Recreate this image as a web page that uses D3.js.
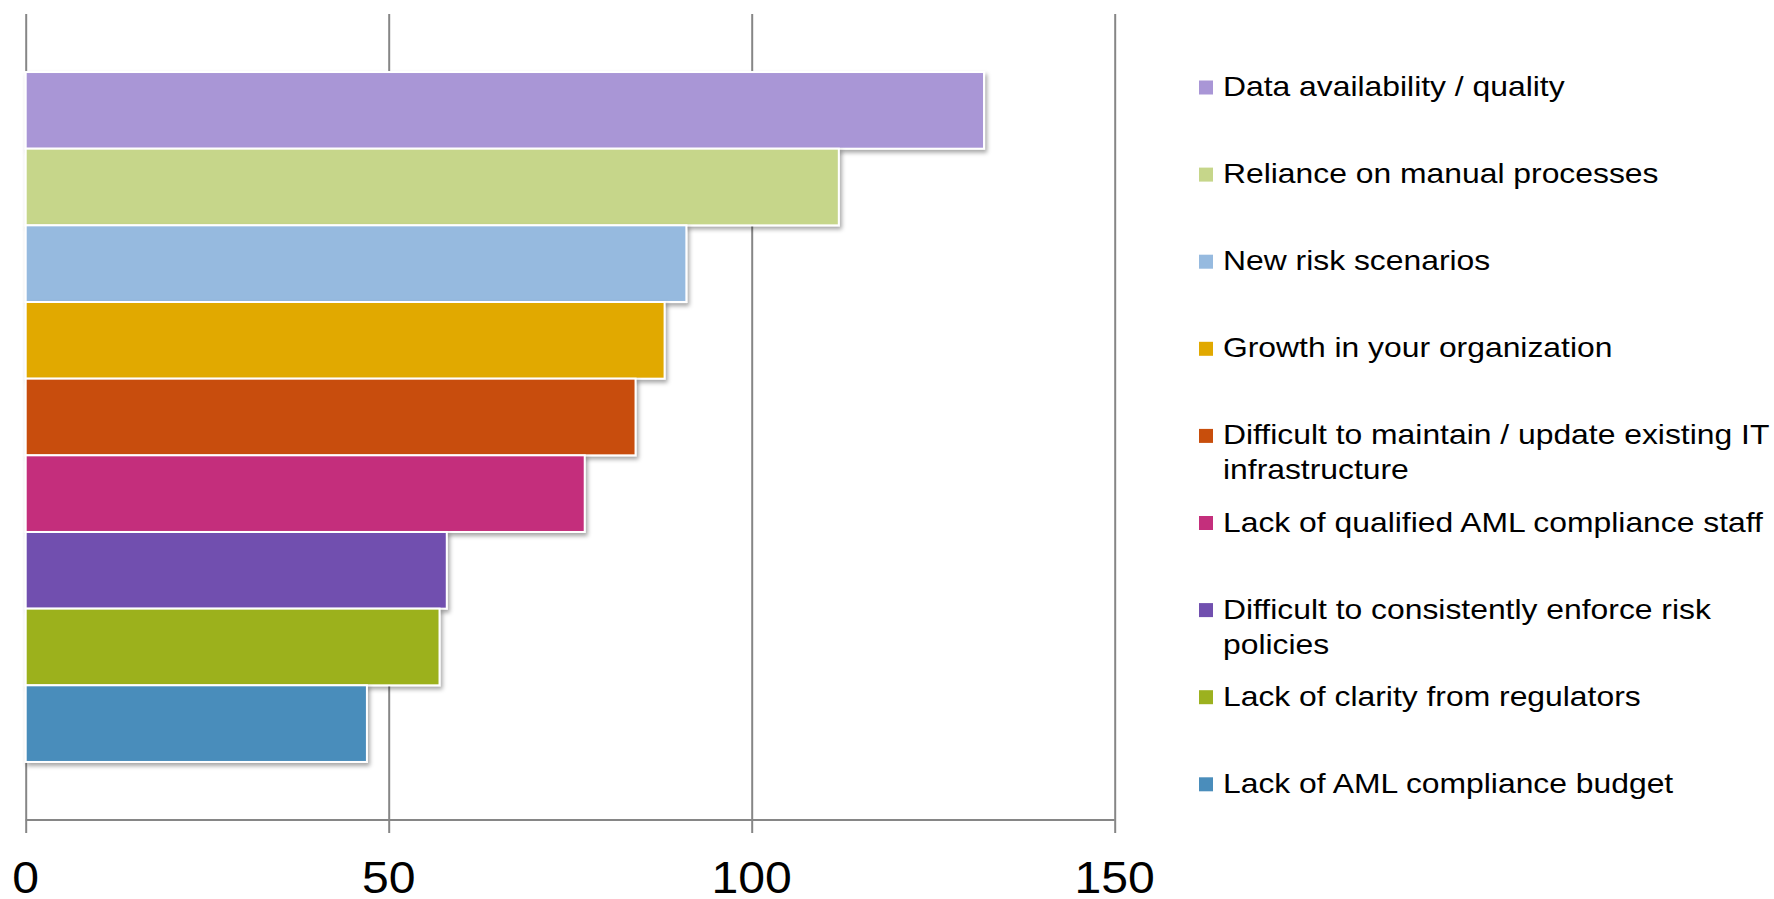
<!DOCTYPE html>
<html>
<head>
<meta charset="utf-8">
<script src="https://cdn.jsdelivr.net/npm/d3@7"></script>
<style>
  html, body { margin: 0; padding: 0; background: #fff; }
  svg { display: block; }
  text { font-family: "Liberation Sans", Arial, Helvetica, sans-serif; fill: #000; }
</style>
</head>
<body>
<svg id="chart" width="1774" height="899"></svg>
<script>
// Challenges reported, in display order (top to bottom)
const categories = [
  "Data availability / quality",
  "Reliance on manual processes",
  "New risk scenarios",
  "Growth in your organization",
  "Difficult to maintain / update existing IT infrastructure",
  "Lack of qualified AML compliance staff",
  "Difficult to consistently enforce risk policies",
  "Lack of clarity from regulators",
  "Lack of AML compliance budget"
];
const values = [132, 112, 91, 88, 84, 77, 58, 57, 47];
const colors = ["#A996D6", "#C6D68A", "#96BADF", "#E1A900", "#C84E0C",
                "#C42F7C", "#7150AF", "#9CB11F", "#4A8DBB"];
const tickValues = [0, 50, 100, 150];

const svg = d3.select("#chart");

// Soft drop shadow under each bar
const defs = svg.append("defs");
const shadow = defs.append("filter").attr("id", "barShadow")
  .attr("x", "-5%").attr("y", "-10%").attr("width", "115%").attr("height", "130%");
shadow.append("feDropShadow")
  .attr("dx", 2).attr("dy", 3).attr("stdDeviation", 2)
  .attr("flood-color", "#000").attr("flood-opacity", 0.35);

const plotTop = 14, plotBottom = 820;
const x = d3.scaleLinear().domain([0, 150]).range([25.7, 1114.7]);
const y = d3.scaleBand().domain(categories).range([plotTop, plotBottom])
  .paddingInner(0).paddingOuter(0.757);

// Vertical gridlines with ticks below the baseline
const xAxis = d3.axisBottom(x).tickValues(tickValues)
  .tickSize(plotBottom - plotTop + 13).tickSizeOuter(0).tickFormat("");
const gx = svg.append("g").attr("transform", `translate(0,${plotTop})`).call(xAxis);
gx.select(".domain").remove();
gx.selectAll(".tick line").attr("stroke", "#868686").attr("stroke-width", 2);

// Horizontal baseline
svg.append("line")
  .attr("x1", x(0)).attr("x2", x(150))
  .attr("y1", plotBottom).attr("y2", plotBottom)
  .attr("stroke", "#868686").attr("stroke-width", 2);

// Tick labels
const tickSx = 1.07;
svg.append("g").selectAll("text").data(tickValues).join("text")
  .attr("transform", d => `translate(${x(d)},893) scale(${tickSx},1)`)
  .attr("text-anchor", "middle")
  .attr("font-size", 45)
  .text(d => d);

// Bars
svg.append("g").selectAll("rect").data(categories).join("rect")
  .attr("x", x(0))
  .attr("y", d => y(d))
  .attr("width", (d, i) => x(values[i]) - x(0))
  .attr("height", y.bandwidth())
  .attr("fill", (d, i) => colors[i])
  .attr("stroke", "#fff")
  .attr("stroke-width", 2)
  .attr("filter", "url(#barShadow)");

// Legend
const legSx = 1.18, legFont = 27, legX = 1223, legY0 = 96, legStep = 87.1,
      legLine = 35, legMax = 556;
const legend = svg.append("g");
categories.forEach((name, i) => {
  const base = legY0 + i * legStep;
  legend.append("rect")
    .attr("x", 1199).attr("y", base - 15.5)
    .attr("width", 14).attr("height", 14)
    .attr("fill", colors[i]);
  // wrap words to the legend width
  const words = name.split(" ");
  let lines = [], cur = "";
  const probe = legend.append("text").attr("font-size", legFont);
  words.forEach(w => {
    const test = cur ? cur + " " + w : w;
    probe.text(test);
    if (cur && probe.node().getComputedTextLength() * legSx > legMax) {
      lines.push(cur); cur = w;
    } else cur = test;
  });
  lines.push(cur);
  probe.remove();
  lines.forEach((ln, j) => {
    legend.append("text")
      .attr("transform", `translate(${legX},${base + j * legLine}) scale(${legSx},1)`)
      .attr("font-size", legFont)
      .text(ln);
  });
});
</script>
</body>
</html>
